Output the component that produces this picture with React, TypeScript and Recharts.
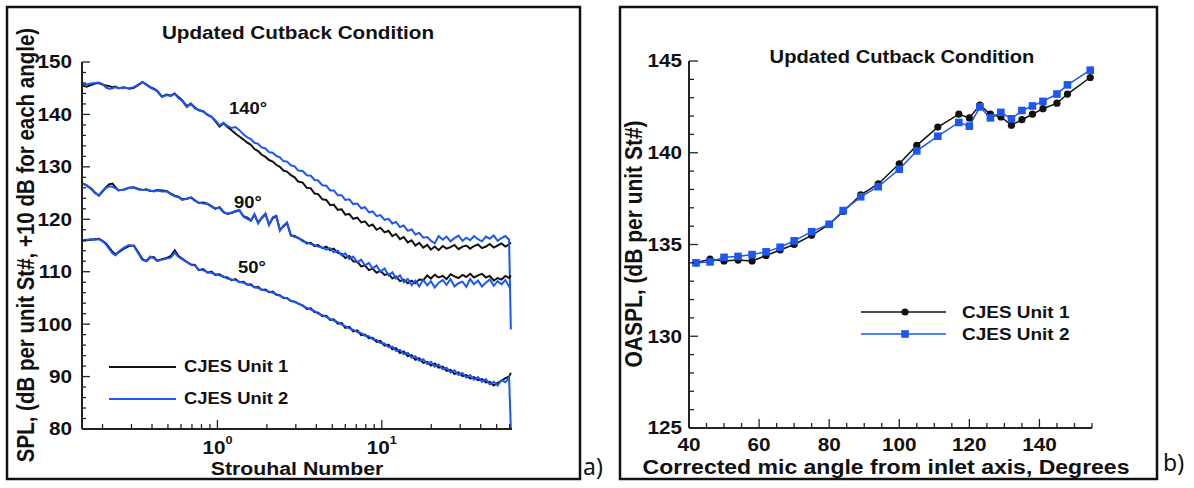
import React from 'react';
import { LineChart, Line, XAxis, YAxis } from 'recharts';

// Strouhal numbers of the spectral readings (panel a)
const strouhal = [
  0.15, 0.16, 0.17, 0.18, 0.19, 0.2, 0.21, 0.22, 0.23, 0.24, 0.25, 0.27, 0.29, 0.31, 0.33, 0.35, 0.37, 0.39, 0.41, 0.43,
  0.46, 0.49, 0.52, 0.55, 0.58, 0.61, 0.65, 0.69, 0.73, 0.77, 0.82, 0.87, 0.92, 0.97, 1.03, 1.09, 1.15, 1.22, 1.29, 1.36,
  1.44, 1.52, 1.6, 1.68, 1.77, 1.86, 1.96, 2.06, 2.17, 2.28, 2.4, 2.52, 2.65, 2.8, 2.95, 3.1, 3.3, 3.5, 3.7, 3.9,
  4.1, 4.35, 4.6, 4.85, 5.1, 5.4, 5.7, 6.0, 6.35, 6.7, 7.1, 7.5, 7.9, 8.35, 8.8, 9.3, 9.8, 10.4, 11, 11.6,
  12.2, 12.9, 13.6, 14.4, 15.2, 16, 16.9, 17.9, 18.9, 19.9, 21, 22.2, 23.5, 24.8, 26.2, 27.7, 29.3, 31, 32.7, 34.5,
  36.4, 38.5, 40.7, 43, 45.4, 48, 50.7, 53.5, 56.5, 59.5, 61,
];

const unit1Deg140 = [
  145.5, 145.3, 145.6, 145.9, 146.0, 145.7, 145.5, 145.4, 145.2, 145.3, 145.0, 145.2, 144.9, 145.1, 145.6, 146.2, 145.7, 145.2, 144.9, 144.5,
  143.4, 143.8, 143.6, 144.0, 143.3, 142.7, 141.6, 142.1, 141.3, 140.8, 140.6, 139.9, 139.6, 138.7, 137.7, 138.3, 137.6, 137.0, 136.3, 135.8,
  135.2, 134.6, 134.2, 133.4, 133.0, 132.3, 131.9, 131.3, 131.0, 130.4, 130.0, 129.3, 129.1, 128.4, 128.0, 127.2, 127.0, 126.0, 125.9, 124.9,
  124.8, 123.8, 123.7, 122.7, 122.8, 121.8, 121.9, 120.9, 121.0, 120.1, 120.3, 119.4, 119.6, 118.7, 119.0, 118.0, 118.4, 117.5, 117.8, 116.8,
  117.2, 116.2, 116.6, 115.6, 116.0, 115.0, 115.5, 114.6, 115.1, 114.2, 114.8, 114.1, 114.9, 114.4, 114.7, 115.1, 114.3, 114.8, 115.0, 114.4,
  114.9, 115.2, 114.5, 114.8, 115.3, 114.6, 115.0, 115.4, 114.8, 115.2, 115.6,
];
const unit2Deg140 = [
  145.8, 145.7, 145.9, 146.0, 146.1, 145.8, 145.1, 144.9, 145.0, 145.2, 145.0, 145.1, 145.0, 145.2, 145.7, 146.2, 145.6, 145.1, 144.8, 144.4,
  143.3, 143.7, 143.5, 143.9, 143.1, 142.6, 141.4, 142.0, 141.1, 140.9, 140.5, 140.0, 139.5, 138.9, 137.9, 138.4, 137.8, 137.4, 137.6, 137.0,
  136.2, 135.6, 135.3, 134.6, 134.4, 133.7, 133.5, 132.8, 132.7, 132.1, 131.8, 131.1, 131.0, 130.3, 130.1, 129.3, 129.2, 128.4, 128.3, 127.5,
  127.4, 126.5, 126.4, 125.5, 125.5, 124.6, 124.6, 123.7, 123.8, 122.9, 123.0, 122.1, 122.3, 121.3, 121.5, 120.6, 120.8, 119.9, 120.1, 119.2,
  119.5, 118.5, 118.8, 117.8, 118.1, 117.1, 117.4, 116.5, 116.6, 115.9, 115.4, 116.8, 116.1, 116.7, 115.8, 116.4, 116.9, 115.9, 116.5, 116.0,
  116.8, 116.2, 115.8, 116.7, 116.3, 116.9, 115.9, 116.4, 116.8, 116.1, 99.0,
];
const unit1Deg90 = [
  126.9, 126.4, 125.9, 125.1, 124.5, 125.3, 126.1, 126.7, 126.8, 126.1, 125.5, 125.7, 126.0, 126.1, 125.8, 125.6, 125.7, 125.4, 125.4, 125.6,
  125.5, 125.4, 124.9, 124.5, 124.3, 123.8, 123.9, 124.2, 123.6, 123.1, 123.2, 123.0, 122.5, 122.0, 122.3, 121.4, 121.0, 121.2, 121.5, 121.7,
  120.6, 120.3, 119.8, 120.8, 119.4, 120.2, 121.0, 119.0, 120.2, 120.6, 118.0, 118.6, 119.3, 116.9, 116.8, 116.4, 116.0, 115.4, 115.5, 114.9,
  115.1, 114.5, 114.8, 114.1, 114.4, 113.6, 113.4, 112.6, 113.0, 112.0, 111.9, 111.0, 111.2, 110.3, 110.6, 109.8, 110.2, 109.4, 109.6, 108.7,
  109.1, 108.2, 108.5, 107.8, 108.3, 107.8, 108.5, 108.4, 109.3, 108.7, 109.4, 108.9, 109.2, 108.6, 109.5, 109.1, 108.8, 109.4, 109.0, 109.6,
  108.9, 109.3, 109.6, 108.9, 109.2, 108.3, 108.8, 108.5, 109.2, 108.8, 109.3,
];
const unit2Deg90 = [
  126.9, 126.5, 125.8, 125.0, 124.6, 125.4, 126.0, 126.3, 126.2, 125.9, 125.6, 125.6, 126.0, 126.0, 125.7, 125.6, 125.6, 125.5, 125.3, 125.5,
  125.3, 125.3, 124.8, 124.4, 124.2, 123.7, 123.9, 124.1, 123.5, 123.2, 123.0, 122.9, 122.4, 122.1, 122.2, 121.3, 121.1, 121.3, 121.6, 121.8,
  120.5, 120.1, 119.7, 121.0, 119.2, 120.3, 121.1, 118.9, 120.4, 120.7, 117.8, 118.8, 119.4, 117.0, 116.6, 116.5, 115.8, 115.6, 115.3, 115.1,
  114.8, 114.6, 114.2, 114.5, 113.7, 114.0, 113.1, 113.5, 112.4, 112.9, 111.8, 112.3, 111.2, 111.7, 110.6, 111.2, 110.0, 110.6, 109.3, 109.9,
  108.7, 109.3, 108.0, 108.6, 107.4, 108.3, 107.2, 108.5, 107.4, 108.2, 107.0, 107.9, 108.4, 107.5, 108.6, 107.2, 107.8, 108.1, 107.1, 108.6,
  107.6, 108.3, 107.2, 107.9, 108.5, 107.3, 108.2, 107.6, 108.4, 107.2, 107.6,
];
const unit1Deg50 = [
  115.9, 116.0, 116.1, 116.2, 116.3, 115.9, 115.4, 114.6, 113.8, 113.3, 113.7, 114.4, 114.9, 115.0, 113.7, 112.4, 112.0, 112.7, 112.8, 112.1,
  112.4, 112.6, 113.0, 114.1, 113.0, 112.5, 111.9, 111.4, 111.3, 110.3, 110.5, 109.8, 110.0, 109.4, 109.5, 109.0, 108.9, 108.4, 108.6, 108.0,
  108.1, 107.5, 107.6, 107.0, 107.1, 106.5, 106.6, 106.1, 106.2, 105.6, 105.5, 105.0, 105.0, 104.4, 104.3, 103.9, 103.6, 102.9, 103.0, 102.3,
  102.2, 101.5, 101.6, 100.8, 100.9, 100.1, 100.2, 99.3, 99.5, 98.6, 98.8, 97.9, 98.0, 97.3, 97.4, 96.6, 96.8, 95.9, 96.1, 95.2,
  95.4, 94.5, 94.8, 93.9, 94.1, 93.2, 93.5, 92.6, 92.8, 92.1, 92.5, 91.7, 91.9, 91.1, 91.3, 90.5, 90.8, 90.1, 90.3, 89.6,
  89.9, 89.3, 89.5, 88.9, 89.0, 88.3, 88.8, 89.2, 89.7, 90.0, 90.7,
];
const unit2Deg50 = [
  115.9, 116.1, 116.2, 116.1, 116.2, 115.8, 115.2, 114.3, 113.5, 113.1, 113.8, 114.6, 115.1, 114.9, 113.5, 112.2, 112.1, 112.9, 112.6, 112.0,
  112.3, 112.5, 112.7, 113.6, 112.8, 112.4, 111.8, 111.3, 111.2, 110.4, 110.3, 109.9, 109.8, 109.5, 109.3, 109.1, 108.7, 108.5, 108.4, 108.1,
  107.9, 107.6, 107.4, 107.1, 106.9, 106.6, 106.4, 106.2, 106.0, 105.7, 105.4, 105.1, 104.9, 104.5, 104.2, 104.0, 103.5, 103.1, 102.8, 102.5,
  102.0, 101.7, 101.4, 101.0, 100.7, 100.4, 99.9, 99.6, 99.2, 98.9, 98.5, 98.3, 97.8, 97.7, 97.1, 97.0, 96.4, 96.3, 95.6, 95.7,
  94.9, 95.1, 94.3, 94.5, 93.6, 93.9, 93.0, 93.3, 92.4, 92.8, 91.9, 92.3, 91.4, 91.7, 90.8, 91.2, 90.3, 90.7, 89.8, 90.3,
  89.4, 89.9, 89.0, 89.5, 88.5, 89.0, 88.3, 89.3, 88.9, 89.8, 80.0,
];

// panel b: OASPL against corrected mic angle
const micAngle = [42, 46, 50, 54, 58, 62, 66, 70, 75, 80, 84, 89, 94, 100, 105, 111, 117, 120, 123, 126, 129, 132, 135, 138, 141, 145, 148, 154.5];
const oasplUnit1 = [134.0, 134.2, 134.1, 134.15, 134.1, 134.4, 134.7, 135.0, 135.5, 136.1, 136.8, 137.7, 138.3, 139.4, 140.4, 141.4, 142.1, 141.9, 142.6, 142.1, 141.95, 141.5, 141.8, 142.1, 142.4, 142.7, 143.2, 144.1];
const oasplUnit2 = [134.0, 134.05, 134.3, 134.35, 134.45, 134.6, 134.85, 135.2, 135.7, 136.1, 136.85, 137.6, 138.15, 139.1, 140.1, 140.9, 141.65, 141.45, 142.5, 141.9, 142.2, 141.85, 142.3, 142.55, 142.8, 143.2, 143.7, 144.5];

// ticks
const stTicks = [0.2, 0.3, 0.4, 0.5, 0.6, 0.7, 0.8, 0.9, 1, 2, 3, 4, 5, 6, 7, 8, 9, 10, 20, 30, 40, 50, 60];
const stMajor = [1, 10];
const splTicks = [80, 82, 84, 86, 88, 90, 92, 94, 96, 98, 100, 102, 104, 106, 108, 110, 112, 114, 116, 118, 120, 122, 124, 126, 128, 130, 132, 134, 136, 138, 140, 142, 144, 146, 148, 150];
const angleTicks = [40, 45, 50, 55, 60, 65, 70, 75, 80, 85, 90, 95, 100, 105, 110, 115, 120, 125, 130, 135, 140, 145, 150, 155];
const oasplTicks = [125, 126, 127, 128, 129, 130, 131, 132, 133, 134, 135, 136, 137, 138, 139, 140, 141, 142, 143, 144, 145];

const FONT = '"Liberation Sans", Arial, Helvetica, sans-serif';
const BLUE = '#1c57f2';
const BLACK = '#111111';
const AXIS = '#222222';
const STRETCH = 1.15;

const spectra = strouhal.map((st, i) => ({
  st,
  a1: unit1Deg140[i], a2: unit2Deg140[i],
  b1: unit1Deg90[i], b2: unit2Deg90[i],
  c1: unit1Deg50[i], c2: unit2Deg50[i],
}));
const oaspl = micAngle.map((angle, i) => ({ angle, u1: oasplUnit1[i], u2: oasplUnit2[i] }));

const Label = ({ x, y, size, anchor = 'middle', rotate = false, children }: any) => (
  <text
    transform={`translate(${x},${y}) scale(${STRETCH},1)${rotate ? ' rotate(-90)' : ''}`}
    fontSize={size}
    fontWeight="bold"
    fontFamily={FONT}
    textAnchor={anchor}
    dominantBaseline="central"
    fill={BLACK}
  >
    {children}
  </text>
);

const SplTick = ({ x, y, payload }: any) => {
  const major = payload.value % 10 === 0;
  return (
    <g>
      <line x1={x} y1={y} x2={x + (major ? 8 : 4)} y2={y} stroke={AXIS} strokeWidth={1.3} />
      {major && <Label x={x - 10} y={y} size={18} anchor="end">{payload.value}</Label>}
    </g>
  );
};

const StTick = ({ x, y, payload }: any) => {
  const major = stMajor.includes(payload.value);
  return (
    <g>
      <line x1={x} y1={y} x2={x} y2={y - (major ? 9 : 5)} stroke={AXIS} strokeWidth={1.3} />
      {major && (
        <Label x={x} y={y + 19} size={18}>
          10<tspan dy={-8} fontSize={11}>{payload.value === 1 ? '0' : '1'}</tspan>
        </Label>
      )}
    </g>
  );
};

const OasplTick = ({ x, y, payload }: any) => {
  const major = payload.value % 5 === 0;
  return (
    <g>
      <line x1={x} y1={y} x2={x + (major ? 9 : 5)} y2={y} stroke={AXIS} strokeWidth={1.3} />
      {major && <Label x={x - 7} y={y} size={18} anchor="end">{payload.value}</Label>}
    </g>
  );
};

const AngleTick = ({ x, y, payload }: any) => {
  const major = payload.value % 20 === 0;
  return (
    <g>
      <line x1={x} y1={y} x2={x} y2={y - (major ? 9 : 5)} stroke={AXIS} strokeWidth={1.3} />
      {major && <Label x={x} y={y + 17} size={18}>{payload.value}</Label>}
    </g>
  );
};

const SquareDot = ({ cx, cy }: any) => <rect x={cx - 3.8} y={cy - 3.8} width={7.6} height={7.6} fill={BLUE} />;

const axisLine = { stroke: AXIS, strokeWidth: 2 };

export default function App() {
  return (
    <div style={{ position: 'absolute', left: 0, top: 0, width: 1194, height: 488, background: '#fff' }}>
      <div style={{ position: 'absolute', left: 0, top: 0 }}>
        <LineChart width={600} height={488} data={spectra} margin={{ top: 62, right: 88, bottom: 29, left: 22 }}>
          <XAxis
            dataKey="st" type="number" scale="log" domain={[0.15, 62]} allowDataOverflow
            ticks={stTicks} interval={0} tickSize={0} tickMargin={0} tickLine={false}
            axisLine={axisLine} tick={<StTick />} height={30}
          />
          <YAxis
            type="number" domain={[80, 150]} allowDataOverflow ticks={splTicks} interval={0}
            tickSize={0} tickMargin={0} tickLine={false} axisLine={axisLine} tick={<SplTick />} width={60}
          />
          {(['a', 'b', 'c'] as const).map((k) => [
            <Line key={k + '1'} dataKey={k + '1'} stroke={BLACK} strokeWidth={2} dot={false} activeDot={false} isAnimationActive={false} type="linear" />,
            <Line key={k + '2'} dataKey={k + '2'} stroke={BLUE} strokeWidth={2} dot={false} activeDot={false} isAnimationActive={false} type="linear" />,
          ])}
        </LineChart>
      </div>
      <div style={{ position: 'absolute', left: 590, top: 0 }}>
        <LineChart width={604} height={488} data={oaspl} margin={{ top: 61, right: 102, bottom: 30, left: 39 }}>
          <XAxis
            dataKey="angle" type="number" domain={[40, 155]} ticks={angleTicks} interval={0}
            tickSize={0} tickMargin={0} tickLine={false} axisLine={axisLine} tick={<AngleTick />} height={30}
          />
          <YAxis
            type="number" domain={[125, 145]} ticks={oasplTicks} interval={0}
            tickSize={0} tickMargin={0} tickLine={false} axisLine={axisLine} tick={<OasplTick />} width={60}
          />
          <Line dataKey="u1" stroke={BLACK} strokeWidth={1.5} dot={{ r: 3.6, fill: BLACK, stroke: BLACK, strokeWidth: 0 }} activeDot={false} isAnimationActive={false} type="linear" />
          <Line dataKey="u2" stroke={BLUE} strokeWidth={1.5} dot={<SquareDot />} activeDot={false} isAnimationActive={false} type="linear" />
        </LineChart>
      </div>
      <svg width={1194} height={488} style={{ position: 'absolute', left: 0, top: 0, pointerEvents: 'none' }}>
        <rect x={7} y={7} width={573} height={472} fill="none" stroke={BLACK} strokeWidth={2.5} />
        <rect x={620} y={7} width={537} height={472} fill="none" stroke={BLACK} strokeWidth={2.5} />

        <Label x={298} y={33} size={18}>Updated Cutback Condition</Label>
        <Label x={26} y={245} size={20.5} rotate>SPL, (dB per unit St#, +10 dB for each angle)</Label>
        <Label x={297} y={469} size={18.5}>Strouhal Number</Label>
        <Label x={229} y={108} size={16} anchor="start">140°</Label>
        <Label x={234} y={202} size={16} anchor="start">90°</Label>
        <Label x={238} y={267} size={16} anchor="start">50°</Label>
        <line x1={109} y1={367} x2={176} y2={367} stroke={BLACK} strokeWidth={1.8} />
        <line x1={109} y1={399} x2={176} y2={399} stroke={BLUE} strokeWidth={1.8} />
        <Label x={184} y={366} size={16} anchor="start">CJES Unit 1</Label>
        <Label x={184} y={398} size={16} anchor="start">CJES Unit 2</Label>

        <Label x={902} y={57} size={17.5}>Updated Cutback Condition</Label>
        <Label x={634} y={244} size={21} rotate>OASPL, (dB per unit St#)</Label>
        <Label x={886} y={467} size={20}>Corrected mic angle from inlet axis, Degrees</Label>
        <line x1={861} y1={312} x2={946} y2={312} stroke={BLACK} strokeWidth={1.5} />
        <circle cx={905} cy={312} r={3.6} fill={BLACK} />
        <line x1={861} y1={334} x2={946} y2={334} stroke={BLUE} strokeWidth={1.5} />
        <rect x={901.2} y={330.2} width={7.6} height={7.6} fill={BLUE} />
        <Label x={962} y={312} size={16.5} anchor="start">CJES Unit 1</Label>
        <Label x={962} y={334} size={16.5} anchor="start">CJES Unit 2</Label>

        <text x={583} y={466} fontSize={23} fontFamily='"Noto Sans", "Open Sans", sans-serif' dominantBaseline="central" fill={BLACK}>a)</text>
        <text x={1163} y={462} fontSize={23} fontFamily='"Noto Sans", "Open Sans", sans-serif' dominantBaseline="central" fill={BLACK}>b)</text>
      </svg>
    </div>
  );
}
